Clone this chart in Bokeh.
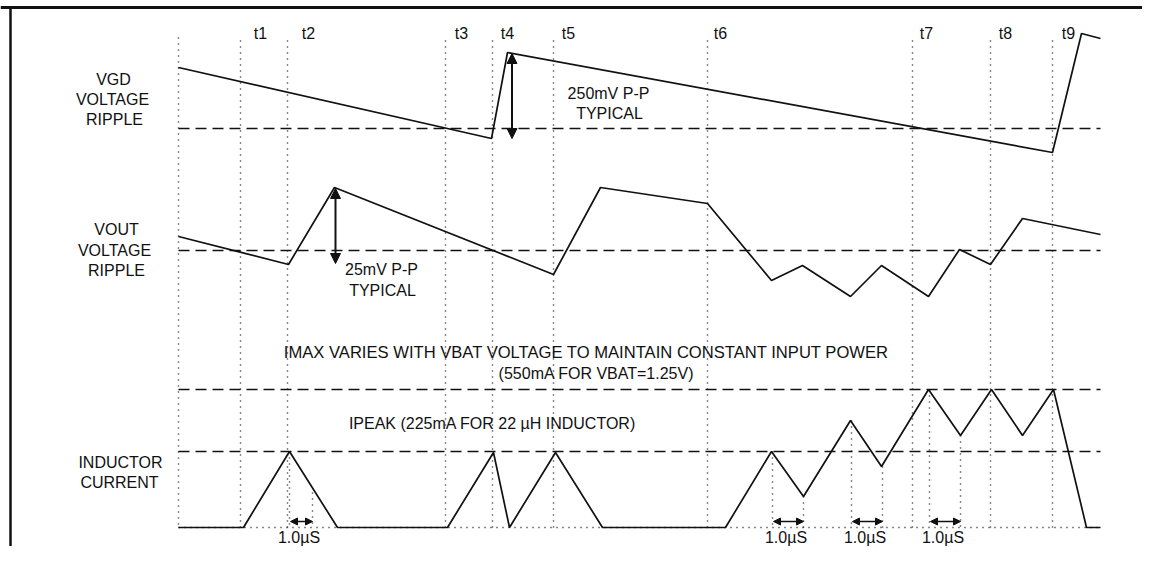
from bokeh.plotting import figure
from bokeh.models import Range1d, Arrow, NormalHead
from bokeh.core.properties import value
from bokeh.embed import file_html
from bokeh.resources import INLINE

# ---------------- data (timing-diagram units: horizontal time, vertical level) ----------------
t_start = 178
t_end = 1100

marker_names = ["t1", "t2", "t3", "t4", "t5", "t6", "t7", "t8", "t9"]
marker_t = [240, 287, 445, 492, 553, 707, 912, 990, 1052]
marker_label_t = [260, 308, 461, 507, 568, 720, 926, 1005, 1068]

# VGD voltage ripple
vgd_t = [178, 491, 507, 1052, 1081, 1100]
vgd_v = [67, 138, 52, 152, 33, 38]
vgd_ref = 128

# VOUT voltage ripple
vout_t = [178, 288, 334, 553, 600, 707, 771, 802, 850, 881, 928, 959, 990, 1022, 1100]
vout_v = [236, 264, 187, 274, 187, 203, 280, 265, 296, 265, 296, 249, 264, 218, 234]
vout_ref = 250

# Inductor current
il_t = [178, 243, 289, 337, 447, 493, 509, 555, 602, 725, 771, 803, 850, 881, 928, 960, 991, 1022, 1053, 1086, 1100]
il_v = [527, 527, 451, 527, 527, 452, 527, 452, 527, 527, 451, 496, 420, 466, 389, 435, 389, 435, 389, 527, 527]
il_zero = 527
il_peak = 451
il_max = 389

# 1.0 µS interval markers
us_start = [289, 772, 851, 929]
us_end = [312, 803, 882, 960]
us_start_top = [451, 451, 420, 389]
us_end_top = [492, 496, 466, 435]
us_label = ["1.0µS", "1.0µS", "1.0µS", "1.0µS"]

# P-P ripple measurements
vgd_pp = (511.5, 53, 138)
vout_pp = (335, 188, 263)

# labels
row_labels = ["VGD", "VOLTAGE", "RIPPLE", "VOUT", "VOLTAGE", "RIPPLE", "INDUCTOR", "CURRENT"]
row_label_x = [113, 112, 114, 116, 114, 116, 120, 119]
row_label_y = [79, 99, 119, 229, 250, 270, 462, 482]

note_text = ["250mV P-P", "TYPICAL", "25mV P-P", "TYPICAL",
             "IMAX VARIES WITH VBAT VOLTAGE TO MAINTAIN CONSTANT INPUT POWER",
             "(550mA FOR VBAT=1.25V)", "IPEAK (225mA FOR 22 µH INDUCTOR)"]
note_x = [608, 609, 381, 382, 586, 596, 492]
note_y = [93, 113, 269, 290, 352, 373, 423]

# ---------------- figure ----------------
W, H = 1142, 546
p = figure(width=W, height=H, output_backend="svg", toolbar_location=None,
           x_range=Range1d(0, W), y_range=Range1d(H, 0),
           x_axis_type=None, y_axis_type=None, min_border=0,
           background_fill_color="white", border_fill_color="white")
p.grid.visible = False
p.outline_line_color = None

INK = "#111111"
FONT = value("Liberation Sans")
FS = value("16px")

# frame
p.line(x=[10, 10], y=[7, H], line_color=INK, line_width=2.5)
p.line(x=[0, W], y=[7, 7], line_color=INK, line_width=3)

# dotted vertical time markers
p.segment(x0=[t_start], y0=[37], x1=[t_start], y1=[il_zero],
          line_color=INK, line_width=1.4, line_dash="1 5")
p.segment(x0=marker_t, y0=[40] * len(marker_t), x1=marker_t, y1=[il_zero] * len(marker_t),
          line_color=INK, line_width=1.4, line_dash="1 5")
# dotted interval markers
p.segment(x0=us_start, y0=us_start_top, x1=us_start, y1=[il_zero] * len(us_start),
          line_color=INK, line_width=1.4, line_dash="1 5")
p.segment(x0=us_end, y0=us_end_top, x1=us_end, y1=[il_zero] * len(us_end),
          line_color=INK, line_width=1.4, line_dash="1 5")
# dotted zero baseline
p.segment(x0=[t_start], y0=[il_zero], x1=[t_end], y1=[il_zero],
          line_color=INK, line_width=1.4, line_dash="1 5")

# dashed reference levels
refs = [vgd_ref, vout_ref, il_max, il_peak]
p.segment(x0=[t_start] * 4, y0=refs, x1=[t_end] * 4, y1=refs,
          line_color=INK, line_width=1.5, line_dash="11 6")

# waveforms
p.line(vgd_t, vgd_v, line_color=INK, line_width=1.7)
p.line(vout_t, vout_v, line_color=INK, line_width=1.7)
p.line(il_t, il_v, line_color=INK, line_width=1.7)

# ripple arrows
for (ax, a0, a1) in [vgd_pp, vout_pp]:
    p.add_layout(Arrow(x_start=ax, y_start=a0, x_end=ax, y_end=a1, line_color=INK, line_width=2,
                       start=NormalHead(size=10, fill_color=INK, line_color=INK),
                       end=NormalHead(size=10, fill_color=INK, line_color=INK)))
# 1.0 µS arrows
for s, e in zip(us_start, us_end):
    p.add_layout(Arrow(x_start=s + 1, y_start=521, x_end=e, y_end=521, line_color=INK, line_width=1.5,
                       start=NormalHead(size=7, fill_color=INK, line_color=INK),
                       end=NormalHead(size=7, fill_color=INK, line_color=INK)))

# texts
p.text(x=marker_label_t, y=[33] * len(marker_names), text=marker_names,
       text_font=FONT, text_font_size=FS, text_color=INK,
       text_align="center", text_baseline="middle")
p.text(x=row_label_x, y=row_label_y, text=row_labels,
       text_font=FONT, text_font_size=FS, text_color=INK,
       text_align="center", text_baseline="middle")
p.text(x=note_x[:4] + note_x[5:], y=note_y[:4] + note_y[5:], text=note_text[:4] + note_text[5:],
       text_font=FONT, text_font_size=FS, text_color=INK,
       text_align="center", text_baseline="middle")
p.text(x=[note_x[4]], y=[note_y[4]], text=[note_text[4]],
       text_font=FONT, text_font_size=value("16.6px"), text_color=INK,
       text_align="center", text_baseline="middle")
p.text(x=[(s + e) / 2 - 2 for s, e in zip(us_start, us_end)], y=[537] * len(us_label), text=us_label,
       text_font=FONT, text_font_size=FS, text_color=INK,
       text_align="center", text_baseline="middle")

open("out.html", "w").write(file_html(p, INLINE))
